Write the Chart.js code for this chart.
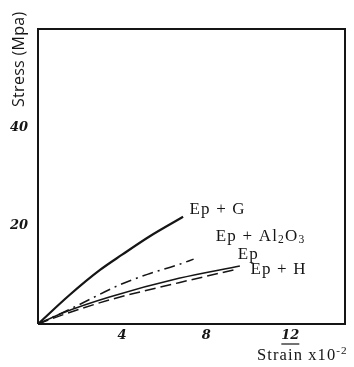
<!DOCTYPE html>
<html>
<head>
<meta charset="utf-8">
<script src="https://cdn.jsdelivr.net/npm/chart.js@4.4.1/dist/chart.umd.min.js"></script>
<style>
    html, body { margin: 0; padding: 0; background: #fff; }
    #wrap { width: 354px; height: 367px; position: relative; }
</style>
</head>
<body>
<div id="wrap"><canvas id="stressChart"></canvas></div>
<script>
// values (strain x10^-2, stress MPa)
const strainG = [0, 1.5, 2.95, 4.0, 5.3, 6.9];
const stressG = [0, 5.9, 11.0, 14.1, 17.8, 21.8];

const strainAl = [0, 1.8, 3.8, 5.2, 6.7, 7.4];
const stressAl = [0, 3.6, 7.8, 10.1, 12.1, 13.2];

const strainEp = [0, 1.2, 3.4, 6.7, 9.6];
const stressEp = [0, 2.3, 5.5, 9.3, 11.8];

const strainH = [0, 1.2, 3.4, 6.7, 9.4];
const stressH = [0, 1.9, 4.9, 8.4, 11.1];

const xTicksShown = [4, 8, 12];
const yTicksShown = [20, 40];

const ink = '#151515';

const toPoints = (xs, ys) => xs.map((x, i) => ({ x, y: ys[i] }));

// draws a string made of parts, some of them sub/superscript
const drawParts = (ctx, parts, x, y, size, spacing) => {
    let cx = x;
    parts.forEach((p) => {
        const s = p.sub || p.sup ? size * 0.68 : size;
        const dy = p.sub ? size * 0.22 : p.sup ? -size * 0.38 : 0;
        ctx.font = `${s}px "Liberation Serif", "DejaVu Serif", serif`;
        ctx.letterSpacing = `${spacing}px`;
        ctx.fillText(p.t, cx, y + dy);
        cx += ctx.measureText(p.t).width;
    });
    ctx.letterSpacing = '0px';
};

const annotations = {
    id: 'annotations',
    afterDraw(chart) {
        const { ctx, chartArea: a, scales } = chart;
        const px = (v) => scales.x.getPixelForValue(v);
        const py = (v) => scales.y.getPixelForValue(v);
        ctx.save();

        // frame
        ctx.strokeStyle = ink;
        ctx.lineWidth = 2;
        ctx.beginPath();
        ctx.moveTo(a.left, a.bottom);
        ctx.lineTo(a.left, a.top);
        ctx.lineTo(a.right, a.top);
        ctx.lineTo(a.right, a.bottom);
        ctx.lineTo(a.left, a.bottom);
        ctx.stroke();

        // curve labels
        ctx.fillStyle = ink;
        ctx.textAlign = 'left';
        ctx.textBaseline = 'middle';
        drawParts(ctx, [{ t: 'Ep + G' }], px(7.2), py(23.3), 17, 1.2);
        drawParts(ctx, [{ t: 'Ep + Al' }, { t: '2', sub: true }, { t: 'O' }, { t: '3', sub: true }], px(8.45), py(17.8), 17, 1.2);
        drawParts(ctx, [{ t: 'Ep' }], px(9.5), py(14.1), 17, 1.2);
        drawParts(ctx, [{ t: 'Ep + H' }], px(10.1), py(11.0), 17, 1.2);

        // x axis title
        ctx.textBaseline = 'alphabetic';
        drawParts(ctx, [{ t: 'Strain x10' }, { t: '-2', sup: true }], 257, 360, 16.5, 1.1);

        // y axis title, rotated
        ctx.translate(19, 107);
        ctx.rotate(-Math.PI / 2);
        ctx.textBaseline = 'middle';
        ctx.font = '16px "Open Sans", sans-serif';
        ctx.letterSpacing = '0.3px';
        ctx.fillText('Stress (Mpa)', 0, 0);
        ctx.letterSpacing = '0px';
        ctx.restore();

        // underline under the 12
        ctx.save();
        ctx.strokeStyle = ink;
        ctx.lineWidth = 1.2;
        ctx.beginPath();
        ctx.moveTo(px(12) - 9, 344);
        ctx.lineTo(px(12) + 9, 344);
        ctx.stroke();
        ctx.restore();
    },
};

const tickFont = { family: '"DejaVu Serif", serif', size: 13, style: 'italic', weight: 'bold' };

const lineStyle = {
    borderColor: ink,
    borderWidth: 1.5,
    cubicInterpolationMode: 'monotone',
    pointRadius: 0,
};

new Chart(document.getElementById('stressChart'), {
    type: 'line',
    data: {
        datasets: [
            { ...lineStyle, label: 'Ep + G', data: toPoints(strainG, stressG), borderWidth: 2.2 },
            { ...lineStyle, label: 'Ep + Al2O3', data: toPoints(strainAl, stressAl), borderDash: [11, 5, 2, 5] },
            { ...lineStyle, label: 'Ep', data: toPoints(strainEp, stressEp) },
            { ...lineStyle, label: 'Ep + H', data: toPoints(strainH, stressH), borderDash: [11, 5] },
        ],
    },
    options: {
        responsive: true,
        maintainAspectRatio: false,
        animation: false,
        layout: { padding: { top: 29, right: 9, left: 0, bottom: 0 } },
        plugins: { legend: { display: false }, tooltip: { enabled: false } },
        scales: {
            x: {
                type: 'linear',
                min: 0,
                max: 14.6,
                grid: { display: false, drawTicks: false, tickLength: 0 },
                border: { display: false },
                ticks: {
                    stepSize: 4,
                    padding: 4,
                    color: ink,
                    font: tickFont,
                    maxRotation: 0,
                    callback: (v) => (xTicksShown.includes(v) ? String(v) : ''),
                },
                afterFit: (scale) => { scale.height = 43; },
            },
            y: {
                min: 0,
                max: 60,
                grid: { display: false, drawTicks: false, tickLength: 0 },
                border: { display: false },
                ticks: {
                    stepSize: 20,
                    padding: 10,
                    color: ink,
                    font: tickFont,
                    callback: (v) => (yTicksShown.includes(v) ? String(v) : ''),
                },
                afterFit: (scale) => { scale.width = 38; },
            },
        },
    },
    plugins: [annotations],
});
</script>
</body>
</html>
